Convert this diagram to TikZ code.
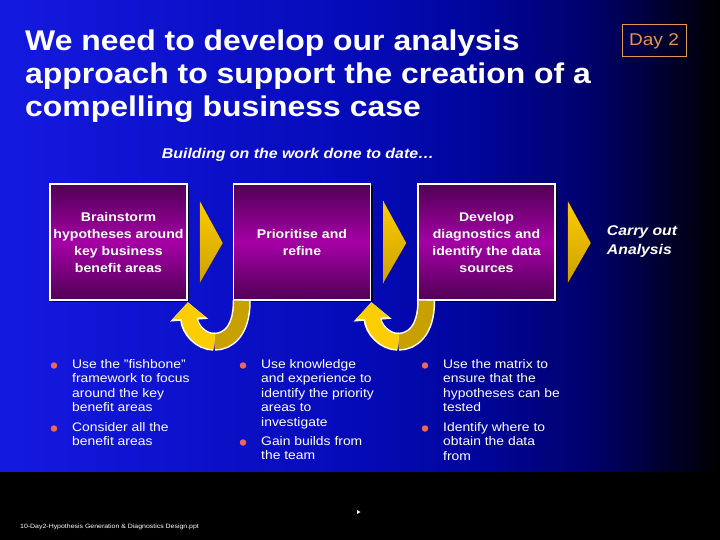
\documentclass[tikz,border=0pt]{standalone}
\usepackage{fontspec}
\setmainfont{Liberation Sans}[FakeStretch=1.12]
\usetikzlibrary{positioning,arrows.meta,shadows,calc}

\definecolor{boxdark}{RGB}{80,0,85}
\definecolor{boxmid}{RGB}{165,0,165}
\definecolor{chevgold}{RGB}{252,205,0}
\definecolor{chevdark}{RGB}{205,160,0}
\definecolor{loopdark}{RGB}{200,160,0}
\definecolor{dayorange}{RGB}{225,150,85}
\definecolor{dotred}{RGB}{235,105,80}

% the path is mapped onto 25bp--75bp of the shading
\pgfdeclarehorizontalshading{slidebg}{100bp}{rgb(0bp)=(0.08,0.1,0.88); rgb(25bp)=(0.08,0.1,0.88); rgb(50bp)=(0.02,0.04,0.72); rgb(58.5bp)=(0,0.02,0.6); rgb(66.5bp)=(0,0,0.4); rgb(72bp)=(0,0,0.14); rgb(75bp)=(0,0,0); rgb(100bp)=(0,0,0)}

\tikzset{
	stage/.style={draw=white, line width=1.5pt, top color=boxdark, bottom color=boxdark, middle color=boxmid,
		minimum width=137pt, minimum height=116pt, inner sep=1pt, align=center, text=white,
		font=\bfseries\fontsize{12.6}{17}\selectfont,
		drop shadow={shadow xshift=2pt, shadow yshift=-2pt, fill=black, opacity=.7}},
	chev/.style={top color=chevgold, bottom color=chevdark},
	point/.style={anchor=north west, inner sep=0pt, align=left, text=white, font=\fontsize{12.4}{14.5}\selectfont},
	dot/.style={circle, fill=dotred, inner sep=0pt, minimum size=6.5pt},
	loopup/.style={line width=15pt, draw=chevgold, shorten >=1.5pt, -{Triangle[width=32pt,length=16pt]},
		preaction={draw=white, line width=18pt, -{Triangle[width=37pt,length=18pt]}}},
	loopdown/.style={line width=15pt, draw=loopdark, preaction={draw=white, line width=18pt}},
}

\begin{document}
\begin{tikzpicture}[x=1pt, y=-1pt]
	\useasboundingbox (0,0) rectangle (720,540);
	\shade[shading=slidebg] (0,0) rectangle (720,472);
	\fill[black] (0,472) rectangle (720,540);

	\node (title) at (25,29.5) [anchor=north west, inner sep=0pt, align=left, text=white, font=\bfseries\fontsize{28.5}{33}\selectfont]
		{We need to develop our analysis\\approach to support the creation of a\\compelling business case};
	\node (day) at (654,41) [draw=dayorange, line width=1pt, text=dayorange, minimum width=64pt, minimum height=32pt, font=\fontsize{17}{20}\selectfont] {Day 2};
	\node (sub) at (298,155) [text=white, font=\bfseries\itshape\fontsize{14.2}{17}\selectfont] {Building on the work done to date…};

	\node (brain) at (118.5,242) [stage] {Brainstorm\\hypotheses around\\key business\\benefit areas};
	\node (prior) [stage, right=45pt of brain] {Prioritise and\\refine};
	\node (diag) [stage, right=46pt of prior] {Develop\\diagnostics and\\identify the data\\sources};
	\node (carry) [right=51pt of diag, inner sep=0pt, align=left, text=white, font=\bfseries\itshape\fontsize{14.1}{19}\selectfont] {Carry out\\Analysis};

	% chevrons after each stage
	\foreach \n in {brain,prior,diag}
		\fill[chev] ([xshift=12pt,yshift=41pt]\n.east) -- ([xshift=35pt,yshift=-1pt]\n.east) -- ([xshift=12pt,yshift=-41pt]\n.east) -- cycle;

	% loop back arrows
	\coordinate (u1) at ($(brain.south east)!.5!(prior.south west)+(4,41)$);
	\coordinate (u2) at ($(prior.south east)!.5!(diag.south west)+(4,41)$);
	\draw[loopdown] ([xshift=9pt]prior.south west) .. controls +(0,30) and +(14,0) .. (u1);
	\draw[loopup] (u1) .. controls +(-14,0) and +(2,28) .. (brain.south east);
	\draw[loopdown] ([xshift=9pt]diag.south west) .. controls +(0,30) and +(14,0) .. (u2);
	\draw[loopup] (u2) .. controls +(-14,0) and +(2,28) .. (prior.south east);

	% bullet points
	\node (p11) at (72,359) [point] {Use the "fishbone"\\framework to focus\\around the key\\benefit areas};
	\node (p12) at (72,422) [point] {Consider all the\\benefit areas};
	\node (p21) at (261,359) [point] {Use knowledge\\and experience to\\identify the priority\\areas to\\investigate};
	\node (p22) at (261,436) [point] {Gain builds from\\the team};
	\node (p31) at (443,359) [point] {Use the matrix to\\ensure that the\\hypotheses can be\\tested};
	\node (p32) at (443,422) [point] {Identify where to\\obtain the data\\from};
	\foreach \p in {p11,p12,p21,p22,p31,p32}
		\node[dot] at ([xshift=-18pt,yshift=-6.5pt]\p.north west) {};

	\node (file) at (20,528) [anchor=base west, inner sep=0pt, text=white, font=\fontsize{6.2}{7}\selectfont] {10-Day2-Hypothesis Generation \& Diagnostics Design.ppt};
	\fill[white] (357,510) -- (360.5,512) -- (357,514) -- cycle;
\end{tikzpicture}
\end{document}
